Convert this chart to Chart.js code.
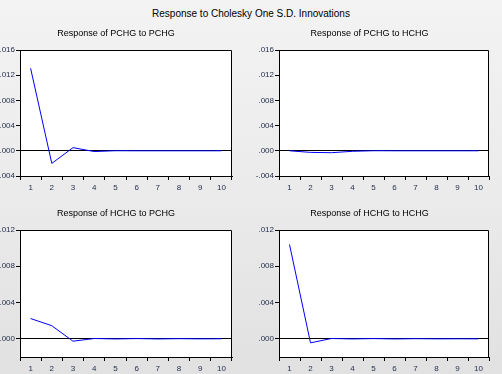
<!DOCTYPE html>
<html>
<head>
<meta charset="utf-8">
<script src="https://cdn.jsdelivr.net/npm/chart.js@4.4.0/dist/chart.umd.min.js"></script>
<style>
  html, body { margin: 0; padding: 0; }
  body { width: 502px; height: 374px; overflow: hidden; }
  #wrap { position: relative; width: 502px; height: 374px;
          background: linear-gradient(to bottom, #f3f3f3 0%, #ebebeb 50%, #e1e1e1 100%); }
  #mainTitle { position: absolute; left: 0; top: 8px; width: 502px; text-align: center;
               font: 10px "Liberation Sans", Arial, sans-serif; color: #000; line-height: 12px; }
  canvas { position: absolute; }
</style>
</head>
<body>
<div id="wrap">
  <div id="mainTitle">Response to Cholesky One S.D. Innovations</div>
  <canvas id="c1" style="left:0px;top:22px;" width="250" height="168"></canvas>
  <canvas id="c2" style="left:250px;top:22px;" width="252" height="168"></canvas>
  <canvas id="c3" style="left:0px;top:200px;" width="250" height="174"></canvas>
  <canvas id="c4" style="left:250px;top:200px;" width="252" height="174"></canvas>
</div>
<script>
// ---- data ----
const horizons = ['1', '2', '3', '4', '5', '6', '7', '8', '9', '10'];
const pchgToPchg = [0.0131, -0.0020, 0.0005, -0.00012, 0.00001, 0.0, 0.0, 0.0, 0.0, 0.0];
const pchgToHchg = [0.0, -0.00025, -0.0003, -0.00008, 0.00001, 0.0, 0.0, 0.0, 0.0, 0.0];
const hchgToPchg = [0.00224, 0.00145, -0.00026, 0.00004, -0.00001, 0.00003, -0.00001, 0.00002, 0.0, 0.00001];
const hchgToHchg = [0.0104, -0.00044, 0.00004, -0.00001, 0.00003, -0.00001, 0.00002, 0.0, 0.00001, 0.0];
const topTicks = [-0.004, 0.0, 0.004, 0.008, 0.012, 0.016];
const bottomTicks = [0.0, 0.004, 0.008, 0.012];
const titles = ['Response of PCHG to PCHG', 'Response of PCHG to HCHG',
                'Response of HCHG to PCHG', 'Response of HCHG to HCHG'];

const FONT = '"Liberation Sans", Arial, sans-serif';
const LABEL_COLOR = '#1f2a48';

function fmt(v) {
  const s = Math.abs(v).toFixed(3).replace(/^0/, '');
  return (v < 0 ? '-' : '') + s;
}

const framePlugin = {
  id: 'frame',
  beforeDraw(chart) {
    const { ctx, chartArea: a } = chart;
    ctx.save();
    ctx.fillStyle = '#ffffff';
    ctx.fillRect(a.left, a.top, a.right - a.left, a.bottom - a.top);
    ctx.restore();
  },
  afterDatasetsDraw(chart) {
    const { ctx, chartArea: a } = chart;
    ctx.save();
    ctx.strokeStyle = '#000';
    ctx.lineWidth = 1;
    ctx.beginPath();
    const t = Math.round(a.top) + 0.5;
    const r = Math.round(a.right) - 0.5;
    ctx.moveTo(Math.round(a.left), t);
    ctx.lineTo(r, t);
    ctx.lineTo(r, Math.round(a.bottom));
    ctx.stroke();
    ctx.restore();
  }
};

function makeChart(id, title, data, yMin, yMax, ticks, yWidth, padRight, titlePadTop, titlePadBottom, xHeight) {
  return new Chart(document.getElementById(id), {
    type: 'line',
    data: {
      labels: horizons,
      datasets: [{
        data: data,
        borderColor: '#0000ff',
        borderWidth: 1,
        pointRadius: 0,
        tension: 0,
        fill: false
      }]
    },
    options: {
      responsive: false,
      animation: false,
      events: [],
      layout: { padding: { left: 0, right: padRight, top: 0, bottom: 0 } },
      plugins: {
        legend: { display: false },
        tooltip: { enabled: false },
        title: {
          display: true,
          text: title,
          color: '#000',
          font: { family: FONT, size: 9, weight: 'normal', lineHeight: 1 },
          padding: { top: titlePadTop, bottom: titlePadBottom }
        }
      },
      scales: {
        x: {
          type: 'category',
          offset: true,
          grid: { offset: true, drawOnChartArea: false, tickLength: 4, tickColor: '#000', lineWidth: 1 },
          border: { display: true, color: '#000', width: 1 },
          ticks: { color: LABEL_COLOR, font: { family: FONT, size: 8 }, padding: 3,
                   autoSkip: false, maxRotation: 0, minRotation: 0 },
          afterFit(scale) { scale.height = xHeight; }
        },
        y: {
          min: yMin,
          max: yMax,
          afterBuildTicks(scale) { scale.ticks = ticks.map(v => ({ value: v })); },
          grid: {
            drawOnChartArea: true,
            color: (c) => (c.tick && Math.abs(c.tick.value) < 1e-12) ? '#000' : 'rgba(0,0,0,0)',
            tickColor: '#000',
            tickLength: 4,
            lineWidth: 1
          },
          border: { display: true, color: '#000', width: 1 },
          ticks: { color: LABEL_COLOR, font: { family: FONT, size: 8 }, padding: 1,
                   callback: (v) => fmt(v) },
          afterFit(scale) { scale.width = yWidth; }
        }
      }
    },
    plugins: [framePlugin]
  });
}

makeChart('c1', titles[0], pchgToPchg, -0.004, 0.016, topTicks, 20, 18, 7.5, 11.5, 14);
makeChart('c2', titles[1], pchgToHchg, -0.004, 0.016, topTicks, 29, 13, 7.5, 11.5, 14);
makeChart('c3', titles[2], hchgToPchg, -0.002, 0.012, bottomTicks, 20, 18, 9.5, 11.5, 17);
makeChart('c4', titles[3], hchgToHchg, -0.002, 0.012, bottomTicks, 29, 13, 9.5, 11.5, 17);
</script>
</body>
</html>
